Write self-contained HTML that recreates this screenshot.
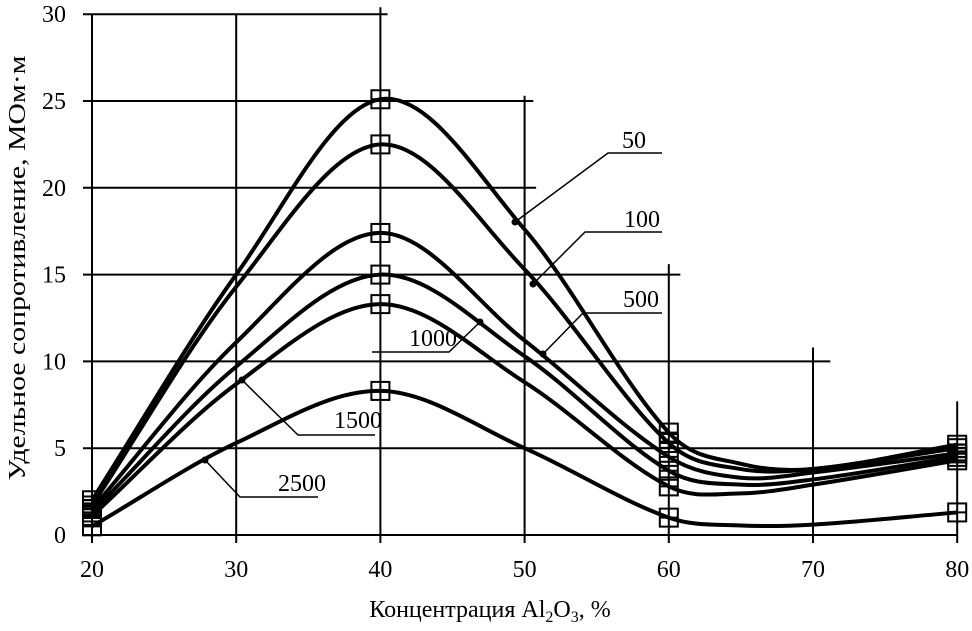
<!DOCTYPE html>
<html><head><meta charset="utf-8"><style>
html,body{margin:0;padding:0;background:#fff;}
svg{display:block;font-family:"Liberation Serif","Noto Serif CJK SC",serif;}
</style></head><body>
<svg id="chart" width="972" height="631" viewBox="0 0 972 631" xmlns="http://www.w3.org/2000/svg">
<g id="grid"></g>
<g id="series"></g>
<g id="labels"></g>
<text x="490" y="617" font-size="24" text-anchor="middle">Концентрация Al<tspan font-size="16" dy="5">2</tspan><tspan dy="-5">O</tspan><tspan font-size="16" dy="5">3</tspan><tspan dy="-5">, %</tspan></text>
<text transform="translate(25,268) rotate(-90)" font-size="24" text-anchor="middle" textLength="425" lengthAdjust="spacingAndGlyphs">Удельное сопротивление, МОм·м</text>
</svg>
<script>
const xs = [20, 30, 40, 50, 60, 65, 70, 80];
const markerX = [20, 40, 60, 80];
const seriesNames = ["50", "100", "500", "1000", "1500", "2500"];
const s50   = [2.0, 15.0, 25.1, 17.6, 5.9, 4.1, 3.8, 5.2];
const s100  = [1.7, 14.3, 22.5, 15.3, 5.3, 3.8, 3.8, 5.0];
const s500  = [1.5, 11.1, 17.4, 11.2, 4.5, 3.3, 3.6, 4.7];
const s1000 = [1.3, 9.7, 15.0, 10.3, 3.7, 2.9, 3.2, 4.5];
const s1500 = [1.1, 8.7, 13.3, 8.8, 2.8, 2.4, 2.9, 4.3];
const s2500 = [0.5, 5.3, 8.3, 5.0, 1.0, 0.55, 0.6, 1.3];
const xTicks = [20, 30, 40, 50, 60, 70, 80];
const yTicks = [0, 5, 10, 15, 20, 25, 30];
const allSeries = [s50, s100, s500, s1000, s1500, s2500];

const NS = "http://www.w3.org/2000/svg";
const X = v => 92 + (v - 20) * 14.42;
const Y = v => 535 - v * 17.36;
function mk(tag, attrs, parent){const e=document.createElementNS(NS,tag);for(const k in attrs)e.setAttribute(k,attrs[k]);parent.appendChild(e);return e;}
const grid=document.getElementById('grid'), ser=document.getElementById('series'), lab=document.getElementById('labels');

const hEnd = {0:80, 5:80, 10:71.2, 15:60.8, 20:50.8, 25:50.6, 30:40.5};
const vStart = {20:30, 30:30, 40:30.4, 50:25.3, 60:15.6, 70:10.8, 80:7.7};
yTicks.forEach(t=>{
  const l=mk('line',{x1:83,x2:X(hEnd[t]),y1:Y(t),y2:Y(t),stroke:'#000','stroke-width':2},grid);
  
  
  const tx=mk('text',{x:66,y:Y(t)+8,'font-size':24,'text-anchor':'end'},grid);
  tx.textContent=t;
  
  
});
xTicks.forEach(t=>{
  const l=mk('line',{x1:X(t),x2:X(t),y1:Y(vStart[t]),y2:543,stroke:'#000','stroke-width':2},grid);
  
  
  const tx=mk('text',{x:X(t),y:577,'font-size':24,'text-anchor':'middle'},grid);
  tx.textContent=t;
  
  
});

function splinePath(ys){
  const n=xs.length, m=[];
  for(let i=0;i<n;i++){
    if(i===0) m.push((ys[1]-ys[0])/(xs[1]-xs[0]));
    else if(i===n-1) m.push((ys[n-1]-ys[n-2])/(xs[n-1]-xs[n-2]));
    else m.push((ys[i+1]-ys[i-1])/(xs[i+1]-xs[i-1]));
  }
  let d='M'+X(xs[0])+','+Y(ys[0]);
  for(let i=0;i<n-1;i++){
    const h=xs[i+1]-xs[i];
    const c1x=xs[i]+h/3, c1y=ys[i]+m[i]*h/3;
    const c2x=xs[i+1]-h/3, c2y=ys[i+1]-m[i+1]*h/3;
    d+=' C'+X(c1x)+','+Y(c1y)+' '+X(c2x)+','+Y(c2y)+' '+X(xs[i+1])+','+Y(ys[i+1]);
  }
  return d;
}
allSeries.forEach((ys,si)=>{
  const p=mk('path',{d:splinePath(ys),fill:'none',stroke:'#000','stroke-width':4},ser);
  
  
  markerX.forEach(mx=>{
    const v=ys[xs.indexOf(mx)];
    const r=mk('rect',{x:X(mx)-9,y:Y(v)-9,width:18,height:18,fill:'none',stroke:'#000','stroke-width':2},ser);
    
    
    mk('line',{x1:X(mx)-9,x2:X(mx)+9,y1:Y(v),y2:Y(v),stroke:'#000','stroke-width':2},ser);
  });
});

const callouts=[
 ["50",515,222,608,153,662,622,148],
 ["100",533,284,585,232,662,624,227],
 ["500",543,354,583,313,662,623,307],
 ["1000",480,322,449,352,372,409,346],
 ["1500",242,380,298,435,375,334,428],
 ["2500",205,460,240,497,318,278,491]
];
callouts.forEach(c=>{
  const g=mk('g',{},lab);
  
  
  mk('circle',{cx:c[1],cy:c[2],r:3.5,fill:'#000'},g);
  mk('polyline',{points:c[1]+','+c[2]+' '+c[3]+','+c[4]+' '+c[5]+','+c[4],fill:'none',stroke:'#000','stroke-width':1.5},g);
  const t=mk('text',{x:c[6],y:c[7],'font-size':24},g);
  t.textContent=c[0];
});
</script>
</body></html>
